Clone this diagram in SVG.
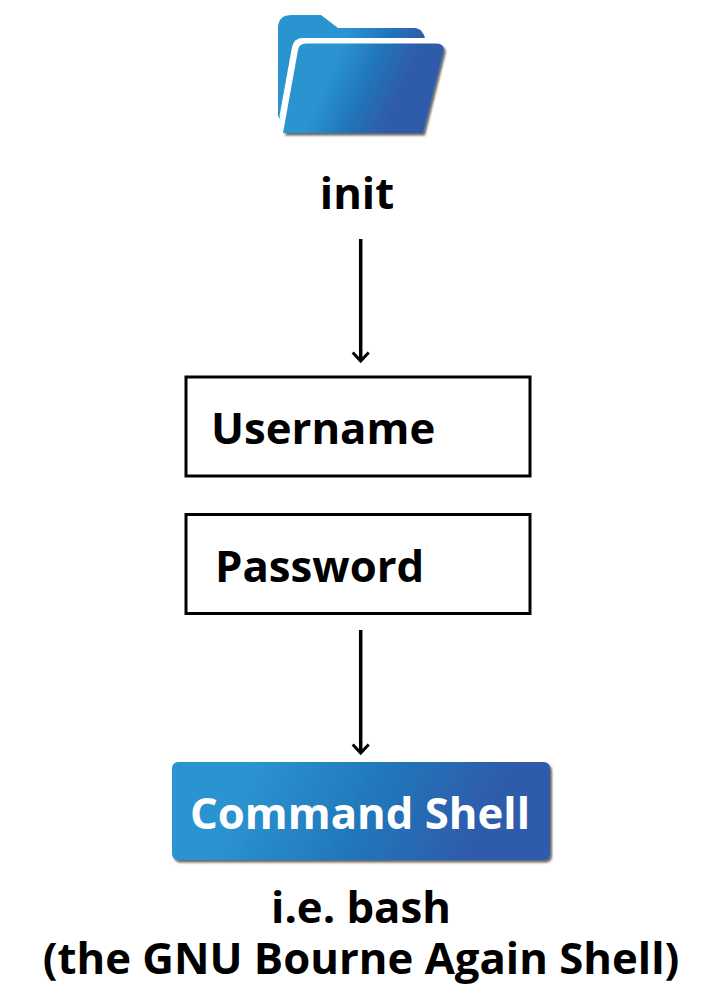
<svg xmlns="http://www.w3.org/2000/svg" width="720" height="1000" viewBox="0 0 720 1000">
<style>
text{font-family:"Open Sans","Noto Sans","Liberation Sans",sans-serif;font-weight:700;fill:#000;font-size:43.7px}
.box{fill:#fff;stroke:#000;stroke-width:3}
.line{fill:none;stroke:#000;stroke-width:3.500}
</style>
<defs>
<linearGradient id="g1" gradientUnits="userSpaceOnUse" x1="250" y1="770" x2="458" y2="870">
<stop offset="0" stop-color="#2a94d0"/><stop offset="0.58" stop-color="#2274b8"/><stop offset="1" stop-color="#2f5cab"/>
</linearGradient>
<linearGradient id="g2" gradientUnits="userSpaceOnUse" x1="337" y1="55" x2="403" y2="84">
<stop offset="0" stop-color="#2a94d0"/><stop offset="0.55" stop-color="#2274b8"/><stop offset="1" stop-color="#2f5cab"/>
</linearGradient>
<filter id="sh" x="-5%" y="-5%" width="112%" height="115%"><feDropShadow dx="2" dy="2.5" stdDeviation="1.2" flood-color="#000" flood-opacity=".6"/></filter>
<marker id="arr" markerUnits="userSpaceOnUse" markerWidth="20" markerHeight="24" refX="14" refY="12" orient="auto"><path d="M5.500 4L14 12L5.500 20" fill="none" stroke="#000" stroke-width="3"/></marker>
</defs>
<g id="folder">
<path d="M278 116V28Q278 15 292 15H321L338 28H415Q422 28 425 38V44H300L284 125Z" fill="url(#g2)"/>
<path d="M279.500 116L292 47Q294 38 303 38H425L440 44.500L300 130L283 133Z" fill="#fff"/>
<path d="M283 133L298 50Q299 43.500 306 43.500H436Q445 43.500 443.500 51L423 133Z" fill="url(#g2)" filter="url(#sh)"/>
</g>
<g id="init-label"><text x="357" y="209" text-anchor="middle">init</text></g>
<g id="connectors">
<path class="line" d="M360.700 239V361" marker-end="url(#arr)"/>
<path class="line" d="M360.700 630V753" marker-end="url(#arr)"/>
</g>
<g id="username"><rect class="box" x="186" y="377" width="344" height="99"/><text x="211" y="444">Username</text></g>
<g id="password"><rect class="box" x="186" y="514.500" width="344" height="99"/><text x="215" y="582">Password</text></g>
<g id="command-shell"><rect x="172" y="762" width="378" height="98" rx="6" fill="url(#g1)" filter="url(#sh)"/><text x="360" y="829" text-anchor="middle" style="fill:#fff">Command Shell</text></g>
<g id="caption"><text x="361" y="923" text-anchor="middle">i.e. bash</text><text x="361" y="974" text-anchor="middle">(the GNU Bourne Again Shell)</text></g>
</svg>
